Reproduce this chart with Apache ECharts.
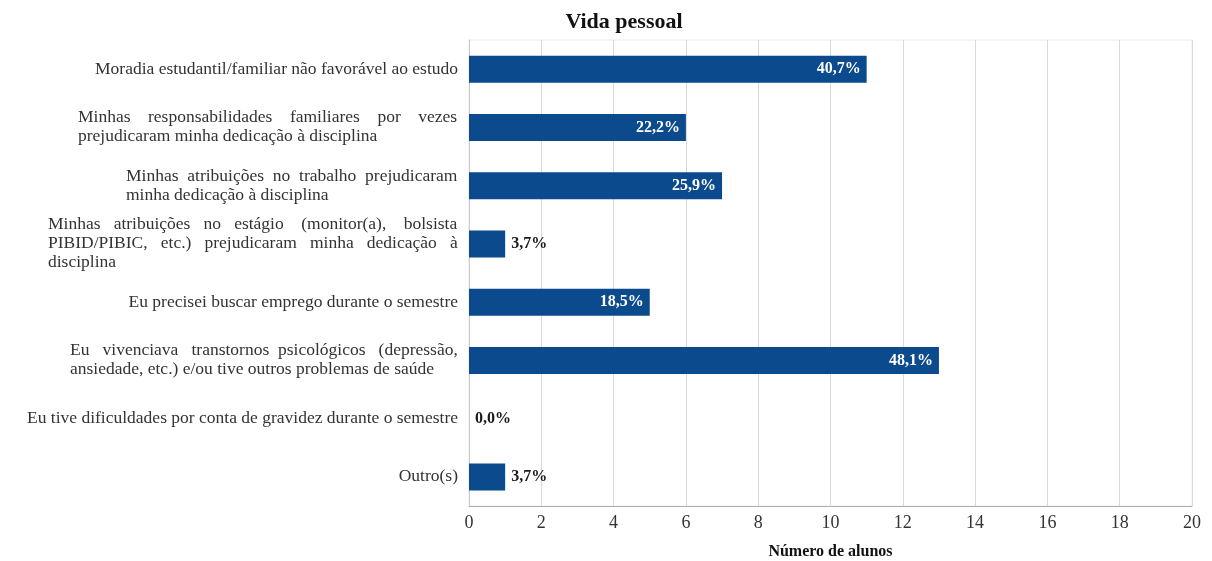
<!DOCTYPE html>
<html><head><meta charset="utf-8">
<script src="https://cdn.jsdelivr.net/npm/echarts@6/dist/echarts.min.js"></script>
<style>html,body{margin:0;padding:0;background:#fff}#c{width:1212px;height:561px}</style>
</head><body><div id="c"></div>
<script>
const categories = [
  "Moradia estudantil/familiar não favorável ao estudo",
  "Minhas    responsabilidades    familiares    por    vezes\nprejudicaram minha dedicação à disciplina",
  "Minhas  atribuições  no  trabalho  prejudicaram\nminha dedicação à disciplina",
  "Minhas   atribuições   no   estágio    (monitor(a),    bolsista\nPIBID/PIBIC,   etc.)   prejudicaram   minha   dedicação   à\ndisciplina",
  "Eu precisei buscar emprego durante o semestre",
  "Eu   vivenciava   transtornos  psicológicos   (depressão,\nansiedade, etc.) e/ou tive outros problemas de saúde",
  "Eu tive dificuldades por conta de gravidez durante o semestre",
  "Outro(s)"
];
const values = [11, 6, 7, 1, 5, 13, 0, 1];
const pctLabels = ["40,7%", "22,2%", "25,9%", "3,7%", "18,5%", "48,1%", "0,0%", "3,7%"];
const xTicks = [0, 2, 4, 6, 8, 10, 12, 14, 16, 18, 20];

const serif = '"Liberation Serif","DejaVu Serif",serif';
const labelSize = 17.5;
const measureCtx = document.createElement('canvas').getContext('2d');
measureCtx.font = labelSize + 'px ' + serif;

const chart = echarts.init(document.getElementById('c'));
const data = values.map((v, i) => {
  const inside = v >= 3;
  return {
    value: v,
    label: {
      show: true,
      formatter: pctLabels[i],
      position: inside ? 'insideRight' : 'right',
      distance: 6,
      color: inside ? '#ffffff' : '#1a1a1a',
      fontFamily: serif,
      fontWeight: 'bold',
      fontSize: 16
    }
  };
});

function blockWidth(lines) {
  return Math.ceil(Math.max.apply(null, lines.map(l => measureCtx.measureText(l).width)));
}
function fmtLabel(text) {
  const lines = text.split('\n');
  if (lines.length === 1) return text;
  const w = blockWidth(lines);
  return lines.map(l => '{w' + w + '|' + l + '}').join('\n');
}
const rich = {};
categories.forEach(c => {
  const lines = c.split('\n');
  if (lines.length > 1) {
    const w = blockWidth(lines);
    rich['w' + w] = { width: w, align: 'left', fontFamily: serif, fontSize: labelSize, color: '#333', lineHeight: 19 };
  }
});

chart.setOption({
  animation: false,
  backgroundColor: '#ffffff',
  title: {
    text: 'Vida pessoal',
    left: 619, top: 6, textAlign: 'center',
    textStyle: { fontFamily: serif, fontWeight: 'bold', fontSize: 22, color: '#111' }
  },
  grid: {
    left: 469, right: 20, top: 40, bottom: 55, containLabel: false, outerBoundsMode: 'none',
    show: true, borderColor: '#e6eaf0', borderWidth: 1
  },
  xAxis: {
    type: 'value', min: xTicks[0], max: xTicks[xTicks.length - 1], interval: 2,
    name: 'Número de alunos', nameLocation: 'middle', nameGap: 38,
    nameTextStyle: { fontFamily: serif, fontWeight: 'bold', fontSize: 16, color: '#111' },
    axisLine: { show: true, lineStyle: { color: '#b0b0b0' } },
    axisTick: { show: false },
    axisLabel: { fontFamily: serif, fontSize: 18, color: '#333', margin: 8 },
    splitLine: { show: true, lineStyle: { color: '#d9d9d9' } }
  },
  yAxis: {
    type: 'category', data: categories, inverse: true,
    axisLine: { show: true, lineStyle: { color: '#c8c8c8' } },
    axisTick: { show: false },
    axisLabel: {
      fontFamily: serif, fontSize: labelSize, color: '#333', margin: 11, lineHeight: 19, align: 'right',
      formatter: fmtLabel, rich: rich
    }
  },
  series: [{
    type: 'bar', data: data, barWidth: 27,
    itemStyle: { color: '#0b4a8c' }
  }]
});
</script></body></html>
